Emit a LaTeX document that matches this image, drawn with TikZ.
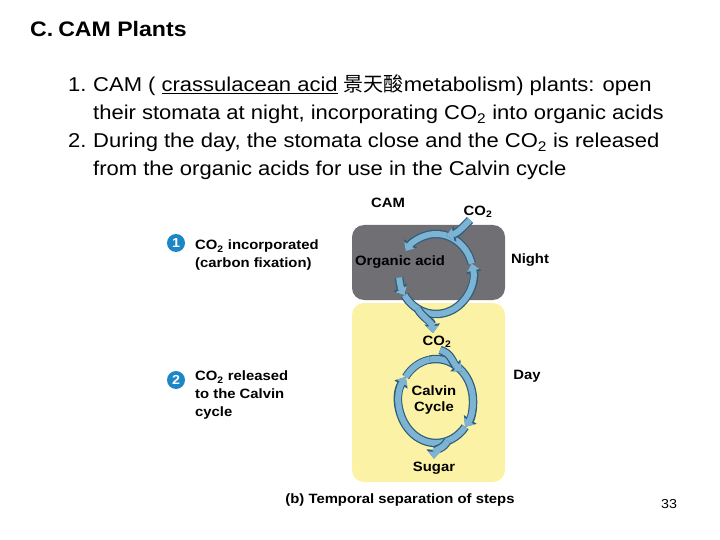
\documentclass[tikz,border=0pt]{standalone}
\usepackage{fontspec}
\setmainfont{Liberation Sans}[FakeStretch=1.1]
\newfontfamily\cjk{Noto Sans CJK SC}
\usetikzlibrary{arrows.meta}

\definecolor{nightgray}{HTML}{707074}
\definecolor{dayyellow}{HTML}{FCF2A6}
\definecolor{bandfill}{HTML}{7DB4D4}
\definecolor{bandedge}{HTML}{2F5E7C}
\definecolor{numblue}{HTML}{1C86C6}

\newcommand{\cotwo}{CO\textsubscript{2}}

\begin{document}
\begin{tikzpicture}[x=1pt, y=1pt,
    body/.style={anchor=base west, inner sep=0pt, font=\fontsize{20}{24}\selectfont},
    label/.style={inner sep=0pt, font=\bfseries\fontsize{13.5}{16}\selectfont},
    side/.style={label, anchor=north west, align=left, font=\bfseries\fontsize{13.5}{18}\selectfont},
    num/.style={circle, fill=numblue, text=white, inner sep=0pt, minimum size=18pt,
        font=\bfseries\fontsize{13}{13}\selectfont},
    band/.style={line width=6pt, draw=bandfill, preaction={draw=bandedge, line width=8pt}},
    flow/.style={line width=6pt, draw=bandfill, -{Triangle[width=12pt,length=7pt]},
        preaction={draw=bandedge, line width=8.5pt, -{Triangle[width=15pt,length=9pt]}}}]
    \useasboundingbox (0,0) rectangle (720,-540);

    % Title and the two points
    \node[anchor=base west, inner sep=0pt, font=\bfseries\fontsize{21}{25}\selectfont] (title) at (30,-37) {C.\hspace{5pt}CAM Plants};
    \node[body] (i1) at (68,-92) {1.};
    \node[body] (l1) at (93,-92) {CAM ( \underline{crassulacean acid} {\cjk 景天酸}metabolism) plants: open};
    \node[body] (l2) at (93,-120) {their stomata at night, incorporating \cotwo{} into organic acids};
    \node[body] (i2) at (68,-148) {2.};
    \node[body] (l3) at (93,-148) {During the day, the stomata close and the \cotwo{} is released};
    \node[body] (l4) at (93,-176) {from the organic acids for use in the Calvin cycle};

    % Night and day panels
    \fill[nightgray, rounded corners=12pt] (352,-225) rectangle (505,-300);
    \fill[dayyellow, rounded corners=12pt] (352,-303) rectangle (505,-482);

    % Labels
    \node[label] (cam) at (388,-203) {CAM};
    \node[label] (co2top) at (478,-212) {\cotwo};
    \node[label] (acid) at (400,-262) {Organic acid};
    \node[label] (night) at (530,-260) {Night};
    \node[label] (co2mid) at (437,-342) {\cotwo};
    \node[label] (day) at (527,-376) {Day};
    \node[label, align=center] (calvin) at (434,-400) {Calvin\\Cycle};
    \node[label] (sugar) at (434,-468) {Sugar};
    \node[label] (caption) at (400,-500) {(b) Temporal separation of steps};
    \node[font=\fontsize{13}{15}\selectfont, inner sep=0pt] (page) at (669,-504) {33};

    \node[num] (n1) at (176,-243) {1};
    \node[side] (s1) at (195,-240) {\cotwo{} incorporated\\(carbon fixation)};
    \node[num] (n2) at (176,-380) {2};
    \node[side] (s2) at (195,-371) {\cotwo{} released\\to the Calvin\\cycle};

    % Night cycle (counterclockwise)
    \coordinate (N) at (436,-274);
    \foreach \a/\b in {185/212, 212/375, 15/145}
        \draw[flow] ([shift={(\a:37 and 40)}]N) arc[start angle=\a, end angle=\b, x radius=37, y radius=40];
    \coordinate (nin) at ([shift={(74:37 and 40)}]N);
    \coordinate (nout) at ([shift={(240:37 and 40)}]N);
    \draw[flow] ([xshift=-8pt, yshift=-2pt]co2top.south) to[out=-135, in=10] (nin);
    \draw[flow] (nout) to[out=-60, in=95] ([xshift=-4pt, yshift=3pt]co2mid.north);

    % Calvin cycle (clockwise)
    \coordinate (K) at (436,-401);
    \draw[band] ([shift={(145:37 and 42)}]K) arc[start angle=145, end angle=100, x radius=37, y radius=42];
    \foreach \a/\b in {100/-38, -38/-215}
        \draw[flow] ([shift={(\a:37 and 42)}]K) arc[start angle=\a, end angle=\b, x radius=37, y radius=42];
    \coordinate (kin) at ([shift={(45:37 and 42)}]K);
    \coordinate (kout) at ([shift={(-72:37 and 42)}]K);
    \draw[flow] ([xshift=3pt, yshift=-2pt]co2mid.south) to[out=-15, in=140] (kin);
    \draw[flow] (kout) to[out=-115, in=88] ([yshift=3pt]sugar.north);
\end{tikzpicture}
\end{document}
